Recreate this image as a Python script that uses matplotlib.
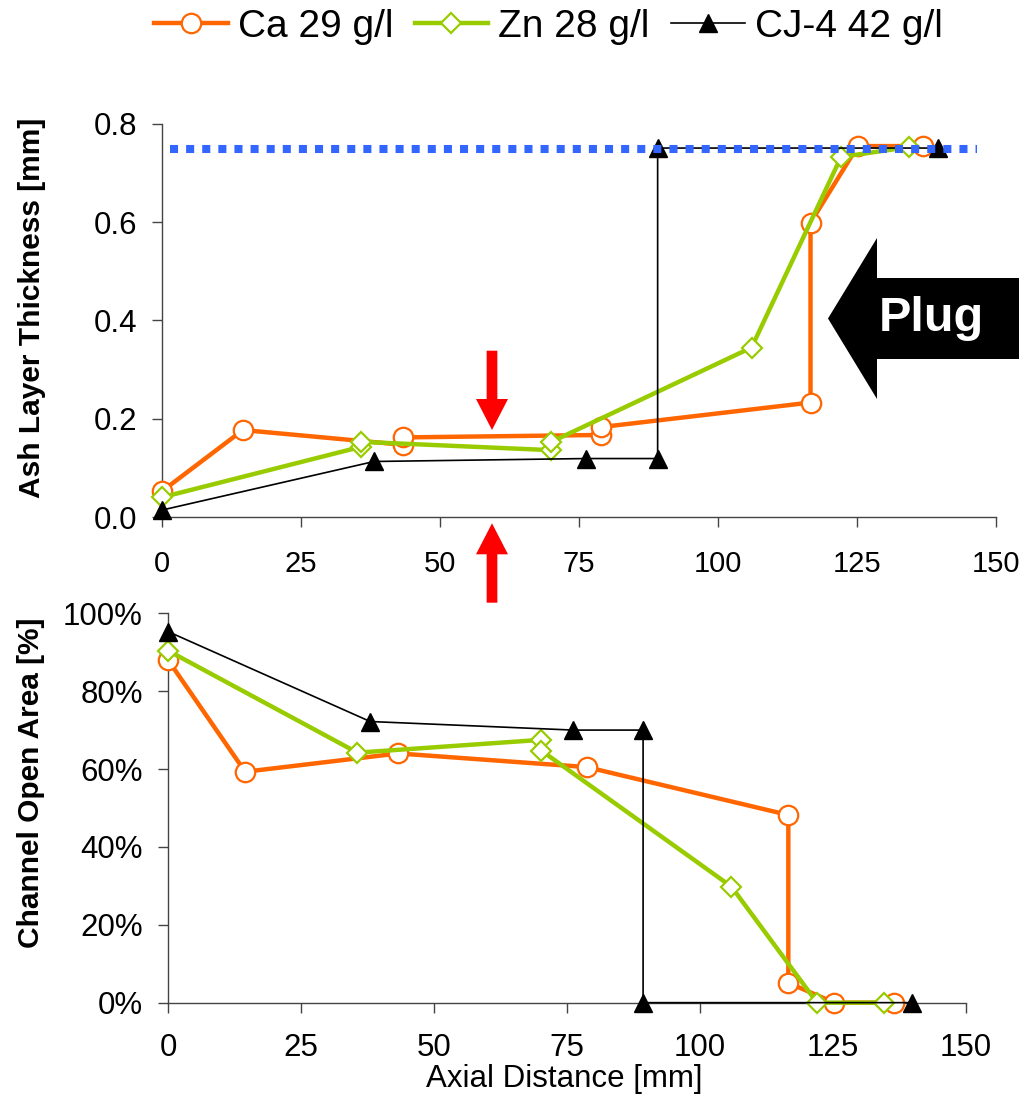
import matplotlib
matplotlib.use("Agg")
import matplotlib.pyplot as plt
from matplotlib.lines import Line2D
from matplotlib.patches import FancyArrow
from matplotlib.ticker import FormatStrFormatter, PercentFormatter, MultipleLocator

plt.rcParams["font.family"] = ["Liberation Sans", "DejaVu Sans"]

# Series labels and colours
series_names = ["Ca 29 g/l", "Zn 28 g/l", "CJ-4 42 g/l"]
ORANGE = "#FF6600"
GREEN = "#99CC00"
BLUE = "#3366FF"

# Ash layer thickness [mm] vs axial distance [mm]
ca_ash_x = [0, 14.6, 43.4, 43.4, 79.0, 79.0, 116.7, 116.7, 125.2, 136.9]
ca_ash_y = [0.052, 0.177, 0.147, 0.162, 0.167, 0.183, 0.233, 0.599, 0.755, 0.755]

zn_ash_x = [0, 35.9, 35.9, 70.1, 70.1, 106.1, 122.2, 134.5]
zn_ash_y = [0.040, 0.143, 0.153, 0.136, 0.153, 0.345, 0.733, 0.753]

cj_ash_x = [0, 38.2, 76.3, 89.2, 89.2, 139.6]
cj_ash_y = [0.014, 0.113, 0.119, 0.119, 0.751, 0.751]

# Full plug thickness reference line
plug_x = [1.5, 146.6]
plug_y = [0.75, 0.75]

# Channel open area [%] vs axial distance [mm]
ca_open_x = [0, 14.5, 43.3, 78.7, 116.6, 116.6, 125.2, 136.5]
ca_open_y = [88.0, 59.3, 64.0, 60.5, 48.2, 5.1, 0, 0]

zn_open_x = [0, 35.6, 70.2, 70.2, 105.9, 122.0, 134.5]
zn_open_y = [90.4, 64.2, 67.5, 64.7, 29.8, 0, 0]

cj_open_x = [0, 38.0, 76.2, 89.3, 89.3, 139.8]
cj_open_y = [95.3, 72.2, 70.0, 70.0, 0, 0]

x_ticks = [0, 25, 50, 75, 100, 125, 150]

fig = plt.figure(figsize=(10.19, 11.04), dpi=100)
ax_top = fig.add_axes([0.1587, 0.5317, 0.8184, 0.356])
ax_bot = fig.add_axes([0.1649, 0.0918, 0.7831, 0.3527])

styles = [
    dict(color=ORANGE, lw=3.2, marker="o", ms=14, mfc="white", mec=ORANGE, mew=1.6, zorder=3),
    dict(color=GREEN, lw=3.2, marker="D", ms=10.5, mfc="white", mec=GREEN, mew=1.6, zorder=4),
    dict(color="black", lw=1.2, marker="^", ms=13, mfc="black", mec="black", mew=1.0, zorder=5),
]

top_data = [(ca_ash_x, ca_ash_y), (zn_ash_x, zn_ash_y), (cj_ash_x, cj_ash_y)]
bot_data = [(ca_open_x, ca_open_y), (zn_open_x, zn_open_y), (cj_open_x, cj_open_y)]

for (x, y), st in zip(top_data, styles):
    ax_top.plot(x, y, clip_on=False, **st)
for (x, y), st in zip(bot_data, styles):
    ax_bot.plot(x, y, clip_on=False, **st)

ax_top.plot(plug_x, plug_y, color=BLUE, lw=5.8, linestyle=(0, (1, 1)),
            dash_capstyle="butt", zorder=7, clip_on=False)

# Axes styling
for ax in (ax_top, ax_bot):
    ax.set_xlim(0, 150)
    ax.set_xticks(x_ticks)
    for side in ("top", "right"):
        ax.spines[side].set_visible(False)
    for side in ("left", "bottom"):
        ax.spines[side].set_color("#444444")
        ax.spines[side].set_linewidth(1.0)
    ax.tick_params(direction="out", length=7.2, width=1.0, color="#444444",
                   labelsize=22.5)

ax_top.set_ylim(0, 0.8)
ax_top.yaxis.set_major_locator(MultipleLocator(0.2))
ax_top.yaxis.set_major_formatter(FormatStrFormatter("%.1f"))
# smaller x labels up top so "150" stays inside the figure
ax_top.tick_params(axis="x", pad=16.5, labelsize=21)
ax_top.tick_params(axis="y", pad=10.5)

ax_bot.set_ylim(0, 100)
ax_bot.yaxis.set_major_locator(MultipleLocator(20))
ax_bot.yaxis.set_major_formatter(PercentFormatter(100, decimals=0))
ax_bot.tick_params(axis="x", pad=15)
ax_bot.tick_params(axis="y", pad=11)

ax_top.set_ylabel("Ash Layer Thickness [mm]", fontsize=21.5, fontweight="bold",
                  ha="center", va="center")
ax_top.yaxis.set_label_coords(-0.156, 0.532)
ax_bot.set_ylabel("Channel Open Area [%]", fontsize=21.5, fontweight="bold",
                  ha="center", va="center")
ax_bot.yaxis.set_label_coords(-0.1715, 0.564)
ax_bot.set_xlabel("Axial Distance [mm]", fontsize=22.5, ha="center", va="center")
ax_bot.xaxis.set_label_coords(0.497, -0.195)

# Legend
handles = [Line2D([], [], **st) for st in styles]
fig.legend(handles, series_names, loc="center", bbox_to_anchor=(0.538, 0.9755),
           ncol=3, frameon=False, fontsize=28, handlelength=1.9,
           handletextpad=0.25, columnspacing=0.55)

# Red arrows marking the cut position (inches from bottom left)
H = 11.04
for y0, dy in [((H - 3.507), -0.793), ((H - 6.027), 0.794)]:
    fig.add_artist(FancyArrow(4.92, y0, 0, dy, width=0.107, head_width=0.32,
                              head_length=0.31, length_includes_head=True,
                              color="#FF0000", lw=0,
                              transform=fig.dpi_scale_trans, zorder=10))

# Plug arrow
plug_arrow = FancyArrow(10.4, H - 3.185, -(10.4 - 8.28), 0, width=0.81,
                        head_width=1.61, head_length=0.49,
                        length_includes_head=True, color="black", lw=0,
                        transform=fig.dpi_scale_trans, zorder=10)
fig.add_artist(plug_arrow)
fig.text(9.31 / 10.19, 1 - 3.18 / H, "Plug", color="white", fontsize=35,
         fontweight="bold", ha="center", va="center", zorder=11)

fig.savefig("out.png", dpi=100)
